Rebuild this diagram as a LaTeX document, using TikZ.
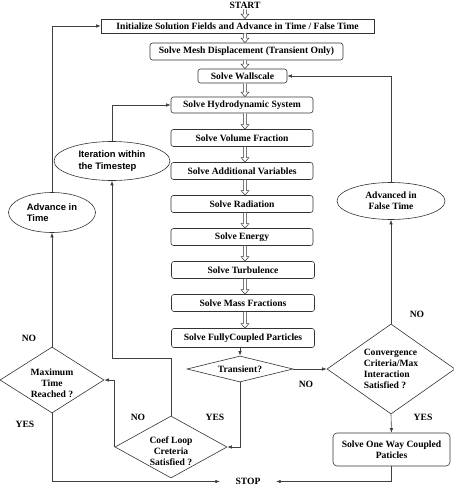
\documentclass[tikz,border=0pt]{standalone}
\usepackage{fontspec}
\setmainfont{Liberation Serif}
\newfontfamily\arialf{Liberation Sans}
\usetikzlibrary{shapes.geometric,arrows.meta,calc}
\begin{document}
\begin{tikzpicture}[x=1pt,y=-1pt,
  txt/.style={font=\fontsize{9.6}{11}\selectfont\bfseries},
  stxt/.style={font=\arialf\fontsize{9.4}{11.5}\selectfont\bfseries},
  box/.style={txt,draw=black!80,line width=0.6pt,rounded corners=2.5pt,inner sep=0pt,minimum width=142pt,minimum height=17pt},
  sqbox/.style={txt,draw=black!80,line width=0.6pt,inner sep=0pt,minimum height=14pt},
  dia/.style={diamond,draw=black!80,line width=0.6pt,inner sep=0pt},
  ell/.style={ellipse,draw=black!80,line width=0.6pt,inner sep=0pt},
  conn/.style={draw=black!75,line width=0.6pt,-{Latex[length=4.5pt,width=3.5pt]}},
  lbl/.style={txt},
  hollow/.style={draw=black!80,line width=0.5pt,fill=white}
]
\useasboundingbox (0,0) rectangle (454,487);
\newcommand{\hol}[2]{%
  \draw[hollow] let \p1=(#1.south -| ax), \p2=(#2.north -| ax) in
    (\x1-1.6pt,\y1) -- (\x1-1.6pt,\y2+4.5pt) -- (\x1-3.8pt,\y2+4.5pt) -- (\x1,\y2)
    -- (\x1+3.8pt,\y2+4.5pt) -- (\x1+1.6pt,\y2+4.5pt) -- (\x1+1.6pt,\y1);}
\coordinate (ax) at (245,0);

\node[txt,inner sep=1pt] (start) at (245,5) {START};
\node[sqbox,minimum width=273pt] (init) at (237.5,26) {Initialize Solution Fields and Advance in Time / False Time};
\node[box,minimum width=193pt] (mesh) at (246.5,51.5) {Solve Mesh Displacement (Transient Only)};
\node[box,minimum width=89pt,minimum height=14pt] (wall) at (242.5,76) {Solve Wallscale};
\node[box,minimum height=16pt] (hydro) at (242,105) {Solve Hydrodynamic System};
\node[box] (vol) at (242,138) {Solve Volume Fraction};
\node[box] (addv) at (242,171) {Solve Additional Variables};
\node[box] (rad) at (242,204) {Solve Radiation};
\node[box] (energy) at (242,237) {Solve Energy};
\node[box,minimum width=143pt] (turb) at (243,270) {Solve Turbulence};
\node[box,minimum width=143pt] (mass) at (243,303) {Solve Mass Fractions};
\node[box,minimum width=143pt,minimum height=19pt] (fully) at (243,338) {Solve FullyCoupled Particles};

\node[dia,minimum width=106pt,minimum height=26pt,label={[txt]center:Transient?}] (trans) at (240,369) {};
\node[dia,minimum width=128pt,minimum height=90pt,label={[txt,align=left]center:Convergence\\Criteria/Max\\Interaction\\Satisfied ?}] (conv) at (391,369) {};
\node[dia,minimum width=104pt,minimum height=66pt,label={[txt,align=center,yshift=-3pt]center:Maximum\\Time\\Reached ?}] (maxt) at (52,380) {};
\node[dia,minimum width=112pt,minimum height=62pt,label={[txt,align=center,yshift=-4pt]center:Coef Loop\\Creteria\\Satisfied ?}] (coef) at (171,447) {};

\node[box,minimum width=117pt,minimum height=33pt,align=center,rounded corners=4pt] (oneway) at (391.5,449.5) {Solve One Way Coupled\\Paticles};

\node[ell,minimum width=116pt,minimum height=39pt,stxt,align=left] (iter) at (112,161) {Iteration within\\the Timestep};
\node[ell,minimum width=87pt,minimum height=40pt,stxt,align=left] (advt) at (52,212.5) {Advance in\\Time};
\node[ell,minimum width=108pt,minimum height=37pt,txt,align=center] (advf) at (391,201) {Advanced in\\False Time};

\node[txt,inner sep=0pt,minimum width=56pt,minimum height=8pt] (stop) at (248,481.5) {STOP};
\coordinate (k1) at (171,358);

% main column hollow arrows
\hol{start}{init}
\hol{init}{mesh}
\hol{mesh}{wall}
\hol{wall}{hydro}
\hol{hydro}{vol}
\hol{vol}{addv}
\hol{addv}{rad}
\hol{rad}{energy}
\hol{energy}{turb}
\hol{turb}{mass}
\hol{mass}{fully}

% connectors
\draw[conn] (fully.south -| trans.north) -- (trans.north);
\draw[conn] (trans.east) -- (conv.west);
\draw[conn] (trans.south) |- (coef.east);
\draw[conn] (coef.north) -- (k1) -| (iter.south);
\draw[conn] (iter.north) |- (hydro.west);
\draw[conn] (coef.west) |- (maxt.east);
\draw[conn] (maxt.north) -- (advt.south);
\draw[conn] (advt.north) |- (init.west);
\draw[conn] (maxt.south) |- (stop.west);
\draw[conn] (oneway.south) |- (stop.east);
\draw[conn] (conv.south) -- (oneway.north);
\draw[conn] (conv.north) -- (advf.south);
\draw[conn] (advf.north) |- (wall.east);

% labels
\node[lbl] (l1) at (29,338) {NO};
\node[lbl] (l2) at (25,424) {YES};
\node[lbl] (l3) at (138,417) {NO};
\node[lbl] (l4) at (215,417) {YES};
\node[lbl] (l5) at (306,384) {NO};
\node[lbl] (l6) at (423,417) {YES};
\node[lbl] (l7) at (417,314) {NO};
\end{tikzpicture}
\end{document}
